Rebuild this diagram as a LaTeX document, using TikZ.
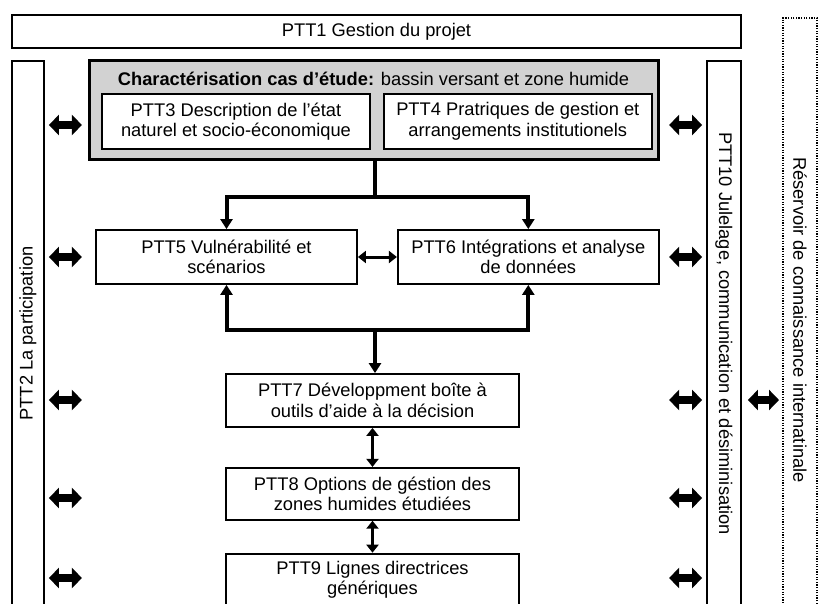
\documentclass[tikz,border=0pt]{standalone}
\usepackage{fontspec}
\setmainfont{Liberation Sans}
\usetikzlibrary{arrows.meta,positioning}

\begin{document}
\begin{tikzpicture}[
  x=1pt, y=-1pt,
  font=\fontsize{18.3}{20.5}\selectfont,
  box/.style={draw, line width=1.8pt, align=center, inner sep=0pt, fill=white},
  wp/.style={box, minimum width=#1, minimum height=54pt},
  band/.style={draw, line width=1.8pt, inner sep=0pt, minimum height=33pt, minimum width=#1},
  case/.style={draw, line width=3pt, fill=gray!35, inner sep=0pt},
  bar/.style={line width=4pt},
  link/.style={bar, -{Triangle[length=10pt,width=12pt]}},
  links/.style={bar, {Triangle[length=10pt,width=12pt]}-{Triangle[length=10pt,width=12pt]}},
  twoway/.style={line width=3pt, {Triangle[length=8pt,width=12pt]}-{Triangle[length=8pt,width=12pt]}},
  fat/.style={line width=8pt, {Triangle[length=10pt,width=20pt]}-{Triangle[length=10pt,width=20pt]}}
]
\useasboundingbox (0,0) rectangle (829,604);
\node[band=729pt] (ptt1) at (376.5,31.5) {PTT1 Gestion du projet};
\node[band=545pt, minimum height=32pt, rotate=90] (ptt2) at (28,333.5) {PTT2 La participation};
\node[band=545pt, minimum height=34pt, rotate=-90] (ptt10) at (724,333.5) {PTT10 Julelage, communication et désiminisation};
\node[band=604pt, minimum height=34pt, rotate=-90, line width=2pt, dash pattern=on 1.3pt off 1.3pt] (res) at (800,320) {Réservoir de connaissance internatinale};
\node[case, minimum width=569pt, minimum height=99pt] (case) at (373.5,110.5) {};
\node (title) at ([yshift=-19pt]case.north) {\textbf{Charactérisation cas d’étude:} bassin versant et zone humide};
\node[wp=268pt, minimum height=55pt] (ptt3) at (236,121.5) {PTT3 Description de l’état\\naturel et socio-économique};
\node[wp=268pt, minimum height=55pt, right=12pt of ptt3] (ptt4) {PTT4 Pratriques de gestion et\\arrangements institutionels};
\node[wp=261pt] (ptt5) at (226.5,257) {PTT5 Vulnérabilité et\\scénarios};
\node[wp=261pt, right=39pt of ptt5] (ptt6) {PTT6 Intégrations et analyse\\de données};
\node[wp=293pt, minimum height=53pt] (ptt7) at (372.5,400.5) {PTT7 Développment boîte à\\outils d’aide à la décision};
\node[wp=293pt, minimum height=52pt, below=39pt of ptt7] (ptt8) {PTT8 Options de géstion des\\zones humides étudiées};
\node[wp=293pt, minimum height=52pt, below=32pt of ptt8] (ptt9) {PTT9 Lignes directrices\\génériques};
\coordinate (split) at (375,197);
\coordinate (join) at (375,330);
\draw[bar] (case.south -| split) -- (split);
\draw[links] (ptt5.north) |- (split) -| (ptt6.north);
\draw[links] (ptt5.south) |- (join) -| (ptt6.south);
\draw[link] (join) -- (join |- ptt7.north);
\draw[twoway] (ptt5) -- (ptt6);
\draw[twoway] (ptt7) -- (ptt8);
\draw[twoway] (ptt8) -- (ptt9);
\foreach \y in {125,257,400,498,578} {
  \draw[fat, shorten <=4pt] (ptt2.south |- 0,\y) -- ++(37,0);
  \draw[fat, shorten <=4pt] (ptt10.south |- 0,\y) -- ++(-37,0);
}
\draw[fat, shorten <=6pt, shorten >=3pt] (ptt10.north |- 0,400) -- (res.south |- 0,400);
\end{tikzpicture}
\end{document}
